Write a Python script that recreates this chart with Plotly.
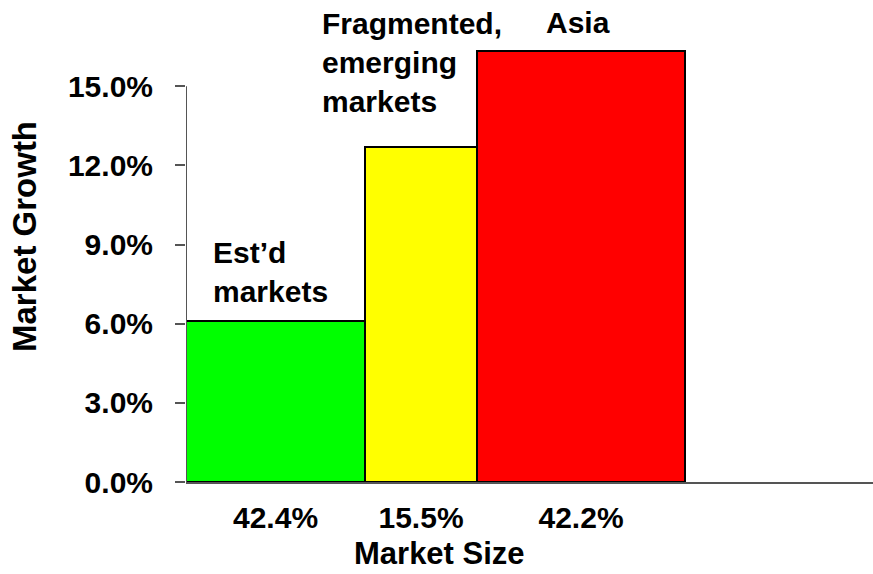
import plotly.graph_objects as go

# ---- data ----
segments = ["Est’d markets", "Fragmented, emerging markets", "Asia"]
market_size_labels = ["42.4%", "15.5%", "42.2%"]
market_growth = [6.1, 12.7, 16.35]          # % growth (bar heights)
bar_widths = [26.06, 16.30, 30.28]          # drawn widths (axis units, 0-100)
bar_colors = ["#00FF00", "#FFFF00", "#FF0000"]
y_ticks = [0, 3, 6, 9, 12, 15]

# cumulative positions
lefts = []
acc = 0.0
for w in bar_widths:
    lefts.append(acc)
    acc += w
centers = [l + w / 2 for l, w in zip(lefts, bar_widths)]

FONT = "Liberation Sans, Arial, sans-serif"
FS = 30

fig = go.Figure()
fig.add_trace(go.Bar(
    x=centers, y=market_growth, width=bar_widths,
    marker=dict(color=bar_colors, line=dict(color="black", width=2)),
    hoverinfo="skip", showlegend=False,
))

fig.update_layout(
    width=873, height=574,
    margin=dict(l=186, r=0, t=7, b=92),
    plot_bgcolor="white", paper_bgcolor="white",
    font=dict(family=FONT, size=FS, color="black"),
    bargap=0,
    xaxis=dict(
        range=[0, 100], showgrid=False, zeroline=False,
        showline=True, linecolor="#555555", linewidth=2,
        tickmode="array", tickvals=centers, ticktext=market_size_labels,
        ticks="", ticklabelstandoff=8,
        tickfont=dict(family=FONT, size=FS, color="black", weight="bold"),
    ),
    yaxis=dict(
        range=[0, 18], showgrid=False, zeroline=False, showline=False,
        tickmode="array", tickvals=y_ticks,
        ticktext=[f"{v:.1f}%" for v in y_ticks],
        ticks="outside", ticklen=10, tickwidth=2, tickcolor="#555555",
        ticklabelstandoff=16,
        tickfont=dict(family=FONT, size=FS, color="black", weight="bold"),
    ),
)

# y-axis line from 0 to top tick
fig.add_shape(type="line", xref="x", yref="y", x0=0, x1=0, y0=0, y1=max(y_ticks),
              line=dict(color="#555555", width=2), layer="above")

# axis titles
fig.add_annotation(text="Market Size", xref="paper", yref="paper",
                   x=(439 - 186) / 687, xanchor="center",
                   y=0, yshift=-71, yanchor="middle", borderpad=0,
                   showarrow=False,
                   font=dict(family=FONT, size=31, color="black", weight="bold"))
fig.add_annotation(text="Market Growth", xref="paper", yref="paper",
                   x=0, xshift=-161.5, xanchor="center",
                   y=(482 - 236.5) / 475, yanchor="middle", textangle=-90,
                   showarrow=False,
                   font=dict(family=FONT, size=33, color="black", weight="bold"))

# segment labels
seg_text = ["Est’d<br>markets", "Fragmented,<br>emerging<br>markets", "Asia"]
seg_x = [3.6, 19.5, centers[2] - 0.4]
seg_y = [6.52, 13.7, 16.72]
seg_anchor = ["left", "left", "center"]
for t, x, y, a in zip(seg_text, seg_x, seg_y, seg_anchor):
    fig.add_annotation(text=t, x=x, y=y, xref="x", yref="y",
                       xanchor=a, yanchor="bottom", align="left",
                       showarrow=False,
                       font=dict(family=FONT, size=FS, color="black", weight="bold"))

fig.write_html("out.html")
